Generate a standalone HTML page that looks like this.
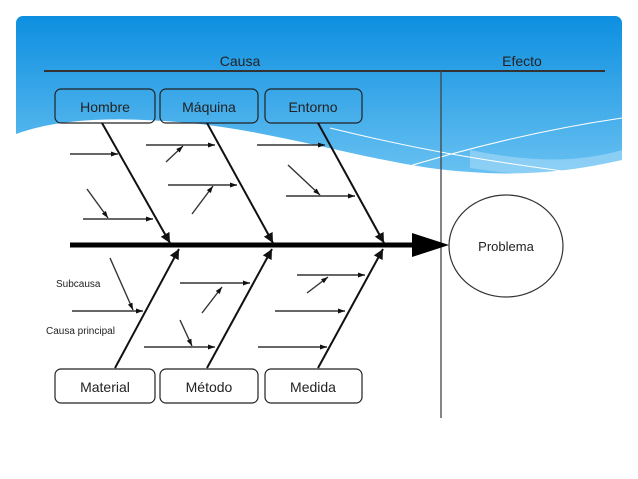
<!DOCTYPE html>
<html><head><meta charset="utf-8"><style>
html,body{margin:0;padding:0;background:#fff;width:638px;height:479px;overflow:hidden}
svg{display:block}
text{font-family:"Liberation Sans",sans-serif;fill:#222}
</style></head><body>
<svg width="638" height="479" viewBox="0 0 638 479" xmlns="http://www.w3.org/2000/svg">
<defs>
<linearGradient id="g" x1="0" y1="0" x2="0" y2="1">
<stop offset="0" stop-color="#0d8fe0"/><stop offset="1" stop-color="#6cc3f2"/>
</linearGradient>
<marker id="a" markerWidth="8" markerHeight="8" refX="7" refY="4" orient="auto" markerUnits="userSpaceOnUse">
<path d="M0,1.5 L7,4 L0,6.5 Z" fill="#111"/></marker>
<marker id="b" markerWidth="12" markerHeight="12" refX="10" refY="6" orient="auto" markerUnits="userSpaceOnUse">
<path d="M0,1 L10,6 L0,11 Z" fill="#111"/></marker>
</defs>
<rect x="16" y="16" width="606" height="165" rx="7" fill="url(#g)"/>
<path d="M470,150 C520,160 570,165 622,150 L622,175 C580,178 520,176 470,168 Z" fill="#9dd6f6" opacity="0.7"/>
<path d="M16,134 C60,118 120,116 200,124 C300,136 390,168 470,172 C520,176 570,172 622,160 L622,479 L16,479 Z" fill="#fff"/>
<path d="M330,128 C420,150 480,160 570,172" stroke="#fff" stroke-width="1" fill="none"/>
<path d="M390,172 C460,150 540,130 622,118" stroke="#fff" stroke-width="1" fill="none"/>
<line x1="44" y1="71" x2="605" y2="71" stroke="#333" stroke-width="2"/>
<text x="240" y="66" font-size="14" text-anchor="middle">Causa</text>
<text x="522" y="66" font-size="14" text-anchor="middle">Efecto</text>
<line x1="441" y1="71" x2="441" y2="418" stroke="#444" stroke-width="1.3"/>
<g fill="none" stroke="#222" stroke-width="1.2">
<rect x="55" y="89" width="100" height="34" rx="6"/>
<rect x="160" y="89" width="98" height="34" rx="6"/>
<rect x="265" y="89" width="97" height="34" rx="6"/>
<rect x="55" y="369" width="100" height="34" rx="6"/>
<rect x="160" y="369" width="98" height="34" rx="6"/>
<rect x="265" y="369" width="97" height="34" rx="6"/>
</g>
<text x="105" y="112" font-size="14" text-anchor="middle">Hombre</text>
<text x="209" y="112" font-size="14" text-anchor="middle">Máquina</text>
<text x="313" y="112" font-size="14" text-anchor="middle">Entorno</text>
<text x="105" y="392" font-size="14" text-anchor="middle">Material</text>
<text x="209" y="392" font-size="14" text-anchor="middle">Método</text>
<text x="313" y="392" font-size="14" text-anchor="middle">Medida</text>
<line x1="70" y1="245" x2="415" y2="245" stroke="#000" stroke-width="5"/>
<path d="M412,233 L449,245 L412,257 Z" fill="#000"/>
<ellipse cx="506" cy="246" rx="57" ry="51" fill="#fff" stroke="#333" stroke-width="1.2"/>
<text x="506" y="251" font-size="13" text-anchor="middle">Problema</text>
<g stroke="#111" stroke-width="2" marker-end="url(#b)">
<line x1="102" y1="123" x2="170" y2="243"/>
<line x1="207" y1="123" x2="273" y2="243"/>
<line x1="318" y1="123" x2="384" y2="243"/>
<line x1="115" y1="368" x2="179" y2="249"/>
<line x1="207" y1="368" x2="272" y2="249"/>
<line x1="318" y1="368" x2="383" y2="249"/>
</g>
<g stroke="#333" stroke-width="1.4" marker-end="url(#a)">
<line x1="70" y1="154" x2="118" y2="154"/>
<line x1="87" y1="189" x2="108" y2="218"/>
<line x1="83" y1="219" x2="153" y2="219"/>
<line x1="146" y1="145" x2="215" y2="145"/>
<line x1="166" y1="162" x2="183" y2="146"/>
<line x1="168" y1="185" x2="237" y2="185"/>
<line x1="192" y1="214" x2="213" y2="186"/>
<line x1="257" y1="145" x2="325" y2="145"/>
<line x1="288" y1="165" x2="320" y2="195"/>
<line x1="286" y1="196" x2="355" y2="196"/>
<line x1="72" y1="311" x2="143" y2="311"/>
<line x1="110" y1="258" x2="133" y2="310"/>
<line x1="180" y1="283" x2="250" y2="283"/>
<line x1="202" y1="313" x2="222" y2="287"/>
<line x1="144" y1="347" x2="215" y2="347"/>
<line x1="180" y1="320" x2="192" y2="346"/>
<line x1="297" y1="275" x2="365" y2="275"/>
<line x1="307" y1="293" x2="328" y2="277"/>
<line x1="275" y1="311" x2="345" y2="311"/>
<line x1="258" y1="347" x2="327" y2="347"/>
</g>
<text x="56" y="287" font-size="10">Subcausa</text>
<text x="46" y="334" font-size="10">Causa principal</text>
</svg>
</body></html>
